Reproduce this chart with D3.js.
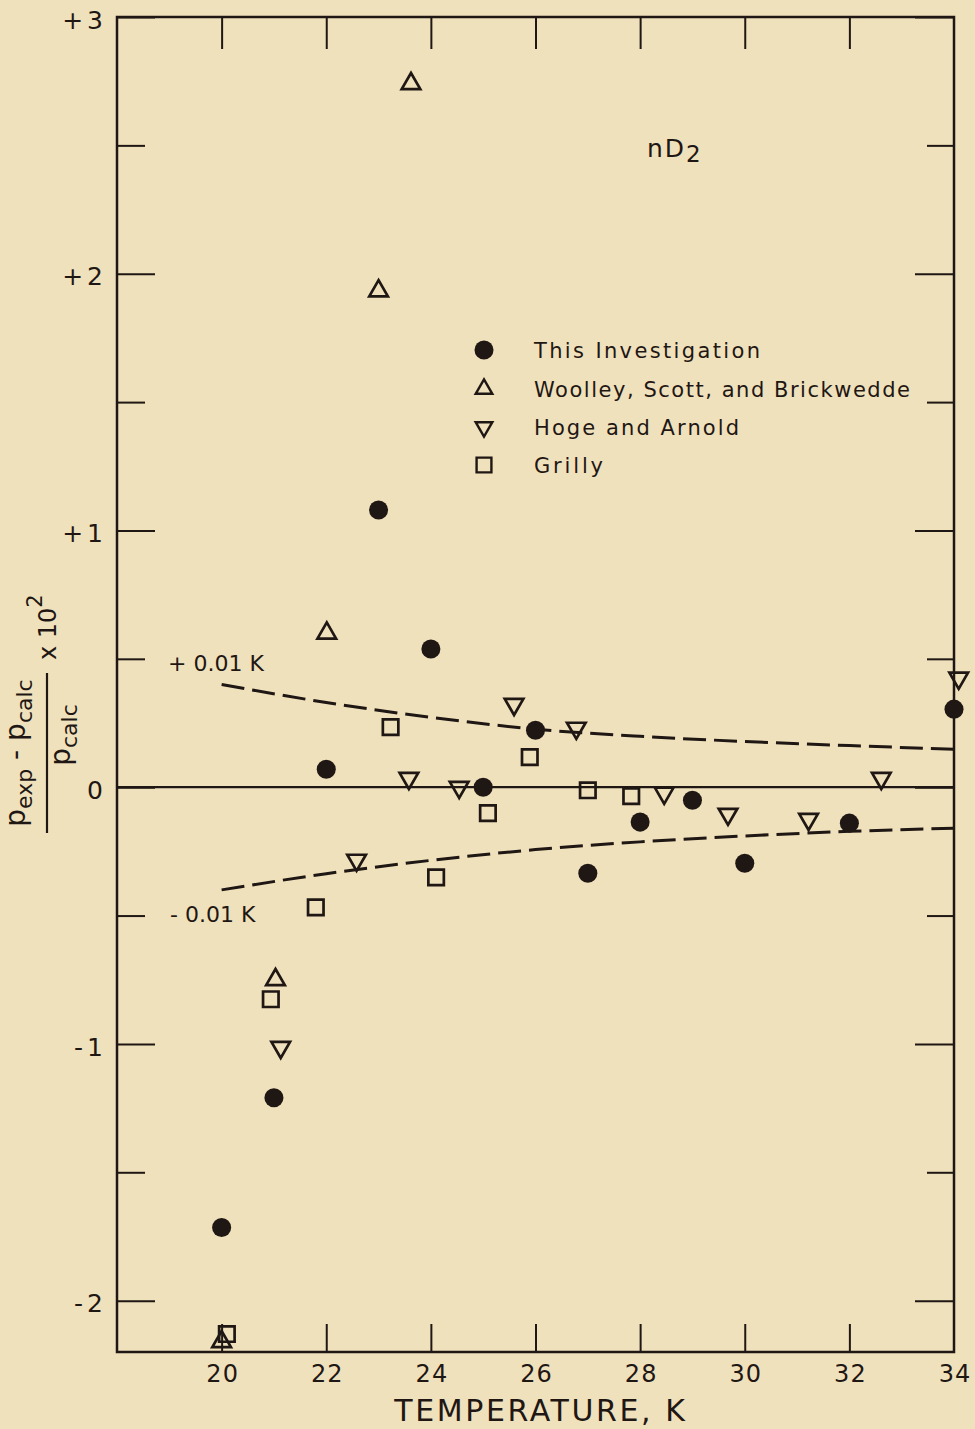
<!DOCTYPE html>
<html>
<head>
<meta charset="utf-8">
<script src="https://cdn.jsdelivr.net/npm/d3@7"></script>
<style>
  html, body { margin: 0; padding: 0; background: #f0e1bd; }
  svg { display: block; }
  text { font-family: "DejaVu Sans", sans-serif; fill: #1f1713; }
</style>
</head>
<body>
<div id="chart"></div>
<script>
// ---------- data ----------
const thisInvT = [20.0, 21.0, 22.0, 23.0, 24.0, 25.0, 26.0, 27.0, 28.0, 29.0, 30.0, 32.0, 34.0];
const thisInvV = [-1.715, -1.21, 0.07, 1.08, 0.538, 0.0, 0.222, -0.335, -0.136, -0.051, -0.296, -0.14, 0.304];

const woolleyT = [20.0, 21.03, 22.01, 23.0, 23.62];
const woolleyV = [-2.16, -0.75, 0.60, 1.933, 2.74];

const hogeT = [21.13, 22.58, 23.58, 24.54, 25.59, 26.78, 28.46, 29.68, 31.22, 32.61, 34.09];
const hogeV = [-1.013, -0.284, 0.035, 0.0, 0.323, 0.23, -0.023, -0.105, -0.125, 0.035, 0.425];

const grillyT = [20.1, 20.94, 21.8, 23.23, 24.1, 25.09, 25.89, 27.0, 27.83];
const grillyV = [-2.13, -0.826, -0.468, 0.234, -0.351, -0.101, 0.117, -0.012, -0.035];

const bandT = [20, 22, 24, 26, 28, 30, 32, 34];
const bandUpper = [0.40, 0.33, 0.272, 0.226, 0.198, 0.178, 0.162, 0.148];
const bandLower = [-0.40, -0.337, -0.285, -0.243, -0.213, -0.19, -0.172, -0.16];

const xTicks = [20, 22, 24, 26, 28, 30, 32, 34];
const yMajorTicks = [3, 2, 1, 0, -1, -2];
const yMajorLabels = ["+3", "+2", "+1", "0", "-1", "-2"];
const yMinorTicks = [2.5, 1.5, 0.5, -0.5, -1.5];

const legendLabels = ["This Investigation", "Woolley, Scott, and Brickwedde", "Hoge and Arnold", "Grilly"];

// ---------- layout ----------
const W = 975, H = 1429;
const ink = "#1f1713";
const pLeft = 117, pRight = 954, pTop = 17, pBottom = 1352;

const svg = d3.select("#chart").append("svg").attr("width", W).attr("height", H);
svg.append("rect").attr("width", W).attr("height", H).attr("fill", "#f0e1bd");

const x = d3.scaleLinear().domain([18, 34]).range([pLeft, pRight]);
const y = d3.scaleLinear().domain([-2.2, 3]).range([pBottom, pTop]);

// frame
svg.append("rect").attr("x", pLeft).attr("y", pTop).attr("width", pRight - pLeft).attr("height", pBottom - pTop)
  .attr("fill", "none").attr("stroke", ink).attr("stroke-width", 2.5);

function styleAxis(g) {
  g.select(".domain").remove();
  g.selectAll(".tick line").attr("stroke", ink).attr("stroke-width", 2);
}

// top inner ticks
svg.append("g").attr("transform", `translate(0,${pTop})`)
  .call(d3.axisBottom(x).tickValues(xTicks.slice(0, -1)).tickSize(32).tickFormat(""))
  .call(styleAxis);
// bottom inner ticks
svg.append("g").attr("transform", `translate(0,${pBottom})`)
  .call(d3.axisTop(x).tickValues(xTicks.slice(0, -1)).tickSize(28).tickFormat(""))
  .call(styleAxis);
// bottom labels
const xLab = svg.append("g").attr("transform", `translate(0,${pBottom})`)
  .call(d3.axisBottom(x).tickValues(xTicks).tickSize(0).tickFormat(d3.format("d")))
  .call(styleAxis);
xLab.selectAll("text").attr("y", 30).attr("dy", 0).attr("dx", "0.5px")
  .style("font-family", "DejaVu Sans").style("font-size", "24px").attr("fill", ink)
  .style("letter-spacing", "1px");

// left inner ticks
svg.append("g").attr("transform", `translate(${pLeft},0)`)
  .call(d3.axisRight(y).tickValues(yMajorTicks).tickSize(38).tickFormat(""))
  .call(styleAxis);
svg.append("g").attr("transform", `translate(${pLeft},0)`)
  .call(d3.axisRight(y).tickValues(yMinorTicks).tickSize(28).tickFormat(""))
  .call(styleAxis);
// right inner ticks
svg.append("g").attr("transform", `translate(${pRight},0)`)
  .call(d3.axisLeft(y).tickValues(yMajorTicks).tickSize(39).tickFormat(""))
  .call(styleAxis);
svg.append("g").attr("transform", `translate(${pRight},0)`)
  .call(d3.axisLeft(y).tickValues(yMinorTicks).tickSize(27).tickFormat(""))
  .call(styleAxis);
// left labels
const yLab = svg.append("g").attr("transform", `translate(${pLeft},0)`)
  .call(d3.axisLeft(y).tickValues(yMajorTicks).tickSize(0).tickPadding(10)
    .tickFormat(d => yMajorLabels[yMajorTicks.indexOf(d)]))
  .call(styleAxis);
yLab.selectAll("text").attr("dy", "0.45em")
  .style("font-family", "DejaVu Sans").style("font-size", "25px").attr("fill", ink)
  .style("letter-spacing", "4px");

// zero line
svg.append("line").attr("x1", pLeft).attr("x2", pRight).attr("y1", y(0)).attr("y2", y(0))
  .attr("stroke", ink).attr("stroke-width", 2.2);

// dashed band lines
const bandLine = d3.line().x(d => x(d[0])).y(d => y(d[1])).curve(d3.curveMonotoneX);
[bandUpper, bandLower].forEach(vals => {
  svg.append("path").datum(bandT.map((t, i) => [t, vals[i]]))
    .attr("d", bandLine).attr("fill", "none").attr("stroke", ink)
    .attr("stroke-width", 3).attr("stroke-dasharray", "23,8");
});

// band labels
svg.append("text").attr("x", 168).attr("y", 671).text("+ 0.01 K")
  .style("font-size", "22px").style("letter-spacing", "0px");
svg.append("text").attr("x", 170).attr("y", 922).text("- 0.01 K")
  .style("font-size", "22px").style("letter-spacing", "0px");

// nD2 label
const nd = svg.append("text").attr("x", 647).attr("y", 157).style("font-size", "25px").style("letter-spacing", "2px");
nd.append("tspan").text("nD");
nd.append("tspan").text("2").attr("dy", 5).style("font-size", "23px");

// markers
const symCircle = d3.symbol().type(d3.symbolCircle).size(285);
const symTri = d3.symbol().type(d3.symbolTriangle).size(150);
const symSquare = d3.symbol().type(d3.symbolSquare).size(240);

function drawSeries(T, V, sym, filled, rot) {
  svg.append("g").selectAll("path").data(T.map((t, i) => [t, V[i]])).join("path")
    .attr("transform", d => `translate(${x(d[0])},${y(d[1])})${rot ? " rotate(180)" : ""}`)
    .attr("d", sym)
    .attr("fill", filled ? ink : "none")
    .attr("stroke", ink)
    .attr("stroke-width", filled ? 0 : 2.7)
    .attr("stroke-linejoin", "miter");
}
drawSeries(thisInvT, thisInvV, symCircle, true, false);
drawSeries(woolleyT, woolleyV, symTri, false, false);
drawSeries(hogeT, hogeV, symTri, false, true);
drawSeries(grillyT, grillyV, symSquare, false, false);

// legend
const legY = [350, 389, 427, 465];
const legWidths = [226, 376, 205, 69];
const legTri = d3.symbol().type(d3.symbolTriangle).size(120);
const legSyms = [[symCircle, true, false], [legTri, false, false], [legTri, false, true],
                 [d3.symbol().type(d3.symbolSquare).size(220), false, false]];
legendLabels.forEach((lab, i) => {
  const [s, f, r] = legSyms[i];
  svg.append("path").attr("transform", `translate(484,${legY[i]})${r ? " rotate(180)" : ""}`)
    .attr("d", s).attr("fill", f ? ink : "none").attr("stroke", ink).attr("stroke-width", f ? 0 : 2.4);
  svg.append("text").attr("x", 534).attr("y", legY[i] + 8).text(lab)
    .attr("textLength", legWidths[i]).attr("lengthAdjust", "spacing")
    .style("font-size", "21px");
});

// x axis title
svg.append("text").attr("x", 541).attr("y", 1421).attr("text-anchor", "middle")
  .text("TEMPERATURE, K").style("font-size", "30px").style("letter-spacing", "2.6px");

// y axis title (rotated)
const yt = svg.append("g").attr("transform", "translate(3,753) rotate(-90)");
const num = yt.append("text").attr("x", 0).attr("y", 22).attr("text-anchor", "middle").style("font-size", "28px");
num.append("tspan").text("p");
num.append("tspan").text("exp").attr("dy", 7).style("font-size", "22px");
num.append("tspan").text(" - p").attr("dy", -7);
num.append("tspan").text("calc").attr("dy", 7).style("font-size", "22px");
yt.append("line").attr("x1", -80).attr("x2", 80).attr("y1", 44).attr("y2", 44).attr("stroke", ink).attr("stroke-width", 2.2);
const den = yt.append("text").attr("x", 18).attr("y", 67).attr("text-anchor", "middle").style("font-size", "28px");
den.append("tspan").text("p");
den.append("tspan").text("calc").attr("dy", 7).style("font-size", "22px");
const mult = yt.append("text").attr("x", 93).attr("y", 53).style("font-size", "24px");
mult.append("tspan").text("x 10");
mult.append("tspan").text("2").attr("dy", -14).style("font-size", "21px");
</script>
</body>
</html>
